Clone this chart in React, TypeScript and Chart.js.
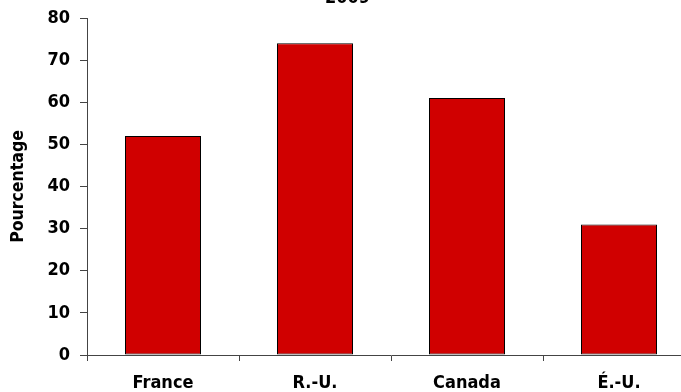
import React, { useEffect, useRef } from "react";
import { Chart, registerables } from "chart.js";

Chart.register(...registerables);

const categories = ["France", "R.-U.", "Canada", "É.-U."];
const values = [52, 74, 61, 31];
const chartTitle = "2009";
const yTitle = "Pourcentage";

const FONT = "'DejaVu Sans Condensed', 'DejaVu Sans', Verdana, sans-serif";

export default function App() {
  const ref = useRef<HTMLCanvasElement | null>(null);

  useEffect(() => {
    if (!ref.current) return;
    const chart = new Chart(ref.current, {
      type: "bar",
      data: {
        labels: categories,
        datasets: [
          {
            data: values,
            backgroundColor: "#D00000",
            borderColor: "#000000",
            borderWidth: 1,
            borderSkipped: false,
            categoryPercentage: 1,
            barPercentage: 0.5,
          },
        ],
      },
      options: {
        animation: false,
        responsive: false,
        maintainAspectRatio: false,
        layout: { padding: { left: 0, right: 23, top: 0, bottom: 0 } },
        plugins: {
          legend: { display: false },
          tooltip: { enabled: false },
          title: {
            display: true,
            text: chartTitle,
            color: "#000",
            font: { family: FONT, size: 18, weight: "bold" },
            padding: { top: 0, bottom: 8.4 },
          },
        },
        scales: {
          x: {
            offset: true,
            afterFit: (s: any) => {
              s.height = 37;
            },
            grid: {
              display: true,
              offset: true,
              drawOnChartArea: false,
              drawTicks: true,
              tickLength: 6,
              color: "#444",
            },
            border: { display: true, color: "#444", width: 1 },
            ticks: {
              color: "#000",
              padding: 12,
              font: { family: FONT, size: 18, weight: "bold" },
              maxRotation: 0,
            },
          },
          y: {
            min: 0,
            max: 80,
            afterFit: (s: any) => {
              s.width = 87;
            },
            ticks: {
              stepSize: 10,
              color: "#000",
              padding: 10,
              font: { family: FONT, size: 18, weight: "bold" },
            },
            grid: {
              display: true,
              drawOnChartArea: false,
              drawTicks: true,
              tickLength: 7,
              color: "#444",
            },
            border: { display: true, color: "#444", width: 1 },
            title: {
              display: true,
              text: yTitle,
              color: "#000",
              font: { family: FONT, size: 17.5, weight: "bold" },
              padding: { top: 8, bottom: 0 },
            },
          },
        },
      },
    });
    return () => chart.destroy();
  }, []);

  return (
    <div
      style={{
        position: "fixed",
        left: 0,
        top: 0,
        width: 681,
        height: 392,
        overflow: "hidden",
        background: "#fff",
      }}
    >
      <canvas
        ref={ref}
        width={718}
        height={404}
        style={{ position: "absolute", left: 0, top: -12, width: 718, height: 404 }}
      />
    </div>
  );
}
